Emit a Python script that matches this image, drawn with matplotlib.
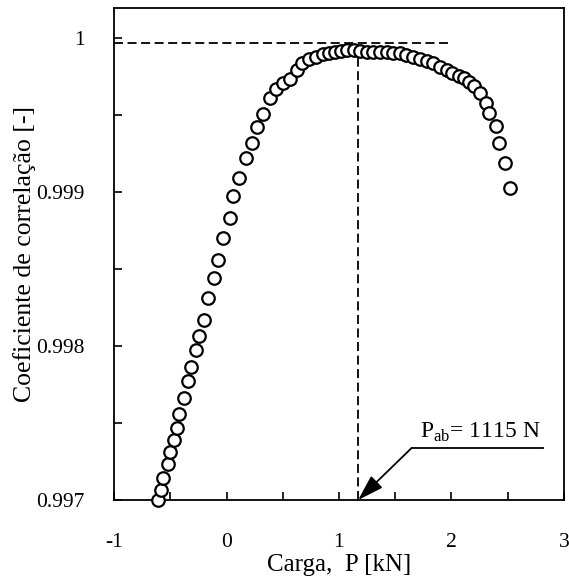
import numpy as np
import matplotlib.pyplot as plt

plt.rcParams['font.family'] = 'Liberation Serif'
plt.rcParams['mathtext.fontset'] = 'custom'
plt.rcParams['mathtext.rm'] = 'Liberation Serif'
plt.rcParams['axes.unicode_minus'] = False

# carga [kN] e coeficiente de correlacao
carga = [-0.611, -0.584, -0.566, -0.522, -0.504, -0.469, -0.442, -0.425, -0.381, -0.345,
         -0.319, -0.274, -0.248, -0.204, -0.168, -0.115, -0.080, -0.027, 0.027, 0.062,
         0.115, 0.177, 0.230, 0.274, 0.327, 0.389, 0.442, 0.504, 0.566, 0.628,
         0.673, 0.735, 0.796, 0.858, 0.912, 0.965, 1.018, 1.071, 1.133, 1.186,
         1.248, 1.301, 1.363, 1.425, 1.478, 1.540, 1.593, 1.655, 1.717, 1.779,
         1.832, 1.894, 1.956, 2.009, 2.071, 2.115, 2.159, 2.204, 2.257, 2.310,
         2.336, 2.398, 2.425, 2.478, 2.522]
coef = [0.997000, 0.997065, 0.997143, 0.997234, 0.997312, 0.997390, 0.997468, 0.997558, 0.997662, 0.997773,
        0.997864, 0.997974, 0.998065, 0.998169, 0.998312, 0.998442, 0.998558, 0.998701, 0.998831, 0.998974,
        0.999091, 0.999221, 0.999318, 0.999422, 0.999506, 0.999610, 0.999669, 0.999708, 0.999734, 0.999792,
        0.999838, 0.999864, 0.999877, 0.999896, 0.999903, 0.999909, 0.999916, 0.999922, 0.999922, 0.999916,
        0.999909, 0.999909, 0.999909, 0.999909, 0.999903, 0.999903, 0.999890, 0.999877, 0.999864, 0.999851,
        0.999838, 0.999812, 0.999792, 0.999773, 0.999753, 0.999740, 0.999714, 0.999688, 0.999643, 0.999578,
        0.999513, 0.999429, 0.999318, 0.999188, 0.999026]

p_ab = 1.17        # posicao da linha vertical
r_max = 0.999968   # linha horizontal
x_fim_h = 1.97

fig = plt.figure(figsize=(5.69, 5.87), dpi=100)
ax = fig.add_axes([0.2004, 0.1482, 0.7907, 0.8382])

ax.plot(carga, coef, 'o', mfc='white', mec='black', ms=9, mew=1.6, ls='none', clip_on=False, zorder=3)

ax.plot([-1, x_fim_h], [r_max, r_max], color='black', lw=1.3, ls=(0, (5, 2.5)))
ax.plot([p_ab, p_ab], [0.997, 0.99992], color='black', lw=1.3, ls=(0, (5, 2.5)))

# seta com o valor
ax.plot([1.646, 2.81], [0.997338, 0.997338], color='black', lw=1.3)
ax.annotate('', xy=(p_ab, 0.997), xytext=(1.646, 0.997338),
            arrowprops=dict(arrowstyle='-|>,head_length=1.6,head_width=0.5',
                            color='black', lw=1.3, shrinkA=0, shrinkB=0))
ax.text(1.72, 0.997405, r'P$_{\rm ab}$= 1115 N', fontsize=17, ha='left', va='baseline')

ax.set_xlim(-1, 3)
ax.set_ylim(0.997, 1.000195)
ax.set_xticks([-1, 0, 1, 2, 3])
ax.set_xticks(np.arange(-1, 3.01, 0.5), minor=True)
ax.set_yticks([0.997, 0.998, 0.999, 1.0])
ax.set_yticklabels(['0.997', '0.998', '0.999', '1'])
ax.set_yticks(np.arange(0.997, 1.00001, 0.0005), minor=True)
ax.tick_params(which='both', direction='in', length=6, width=1.2, labelsize=15.5)
ax.tick_params(axis='x', which='both', pad=24)
ax.tick_params(axis='y', which='both', pad=21)
for s in ax.spines.values():
    s.set_linewidth(1.3)

ax.set_xlabel('Carga,  P [kN]', fontsize=18, labelpad=1)
ax.set_ylabel('Coeficiente de correlação [-]', fontsize=18.5, labelpad=0)

fig.savefig('out.png', dpi=100)
